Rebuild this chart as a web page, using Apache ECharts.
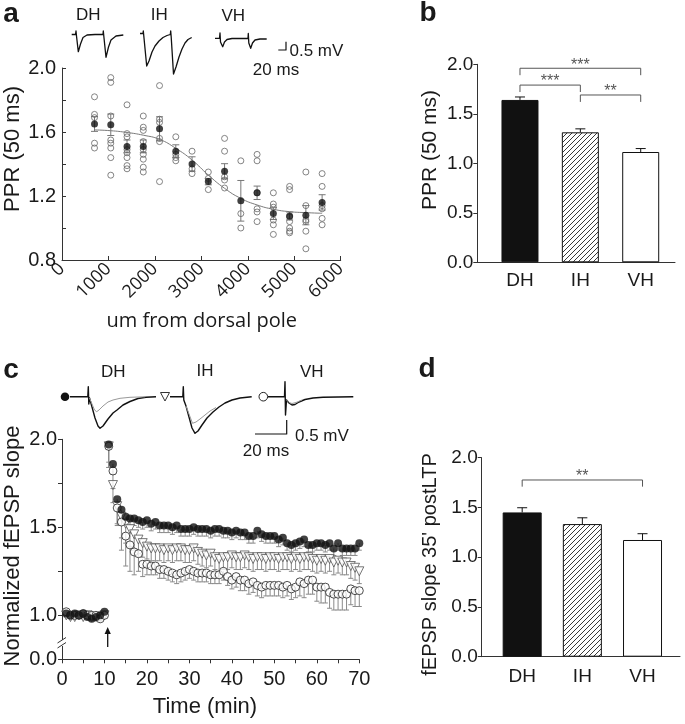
<!DOCTYPE html>
<html><head><meta charset="utf-8">
<script src="https://cdn.jsdelivr.net/npm/echarts@6/dist/echarts.min.js"></script>
<style>html,body{margin:0;padding:0;background:#fff}#chart{width:685px;height:724px}</style>
</head><body><div id="chart"></div>
<script>
// ---------- Panel a: PPR vs distance ----------
var aPos  = [700,1050,1400,1750,2100,2450,2800,3150,3500,3850,4200,4550,4900,5250,5600];
var aMean = [1.65,1.645,1.51,1.51,1.62,1.48,1.40,1.29,1.355,1.17,1.22,1.09,1.075,1.08,1.16];
var aSem  = [0.046,0.067,0.04,0.04,0.075,0.04,0.045,0.02,0.047,0.127,0.042,0.037,0.025,0.06,0.048];
var aIndiv = [
  [1.82,1.71,1.69,1.53,1.50],
  [1.94,1.91,1.70,1.55,1.53,1.50,1.44,1.33],
  [1.77,1.59,1.57,1.49,1.47,1.44,1.39,1.37],
  [1.70,1.63,1.61,1.54,1.49,1.46,1.43,1.38,1.35],
  [1.89,1.68,1.66,1.56,1.54,1.29],
  [1.57,1.46,1.44,1.42],
  [1.48,1.37,1.34],
  [1.35,1.31,1.24],
  [1.56,1.48,1.32,1.30,1.25],
  [1.42,1.09,1.00],
  [1.46,1.42,1.22,1.12,1.10,1.04],
  [1.22,1.15,1.13,1.05,1.02,0.96],
  [1.26,1.24,1.07,1.04,1.00,0.98,0.97],
  [1.35,1.14,1.05,1.04,0.98,0.87],
  [1.34,1.26,1.14,1.12,1.06,1.02]
];
var aFitX = [700,1050,1400,1750,2100,2450,2800,3150,3500,3850,4200,4550,4900,5250,5600];
var aFitY = [1.613,1.608,1.597,1.58,1.554,1.498,1.425,1.331,1.248,1.185,1.144,1.117,1.102,1.096,1.092];
var aYTicks = ['0.8','1.2','1.6','2.0'];

// ---------- Panel b ----------
var bCats = ['DH','IH','VH'];
var bMean = [1.64,1.313,1.114];
var bSem  = [0.03,0.035,0.035];
var bBrFrom = [0,0,1], bBrTo = [2,1,2], bBrY = [1.96,1.79,1.69], bBrLabel = ['***','***','**'];

// ---------- Panel c: LTP time course ----------
var cTime = [1,2,3,4,5,6,7,8,9,10,11,12,13,14,15,16,17,18,19,20,21,22,23,24,25,26,27,28,29,30,31,32,33,34,35,36,37,38,39,40,41,42,43,44,45,46,47,48,49,50,51,52,53,54,55,56,57,58,59,60,61,62,63,64,65,66,67,68,69,70];
var cDH = [1.01,1.00,1.01,1.00,1.01,0.99,0.98,0.99,1.00,1.02,
  1.97,1.86,1.66,1.60,1.56,1.55,1.55,1.54,1.53,1.54,
  1.52,1.53,1.51,1.51,1.51,1.50,1.51,1.49,1.49,1.49,
  1.50,1.49,1.49,1.49,1.48,1.49,1.49,1.48,1.48,1.47,
  1.48,1.47,1.47,1.45,1.45,1.48,1.46,1.45,1.45,1.45,
  1.43,1.44,1.41,1.40,1.41,1.42,1.43,1.40,1.40,1.41,
  1.41,1.40,1.41,1.38,1.41,1.38,1.38,1.38,1.38,1.41];
var cIH = [1.00,0.99,0.99,1.00,0.99,1.00,0.99,0.99,0.99,1.00,
  1.96,1.74,1.62,1.56,1.52,1.49,1.46,1.43,1.41,1.39,
  1.38,1.38,1.38,1.37,1.38,1.37,1.38,1.38,1.37,1.37,
  1.38,1.36,1.35,1.34,1.35,1.33,1.32,1.33,1.33,1.34,
  1.33,1.33,1.34,1.33,1.32,1.33,1.33,1.32,1.33,1.33,
  1.32,1.33,1.33,1.32,1.33,1.32,1.33,1.33,1.32,1.31,
  1.32,1.31,1.32,1.30,1.31,1.30,1.30,1.28,1.27,1.25];
var cVH = [1.02,1.00,1.00,1.00,1.01,1.00,1.00,1.00,0.98,1.00,
  1.96,1.82,1.61,1.53,1.45,1.40,1.36,1.35,1.29,1.29,
  1.28,1.28,1.26,1.26,1.25,1.24,1.23,1.24,1.25,1.26,
  1.25,1.24,1.24,1.24,1.23,1.23,1.23,1.25,1.22,1.20,
  1.22,1.20,1.20,1.18,1.19,1.17,1.16,1.17,1.17,1.17,
  1.17,1.16,1.17,1.15,1.16,1.19,1.18,1.20,1.20,1.16,
  1.16,1.16,1.13,1.12,1.12,1.12,1.12,1.15,1.14,1.14];
var cDHsem = [0.01,0.01,0.01,0.01,0.01,0.01,0.01,0.01,0.01,0.01,
  0.10,0.06,0.05,0.05,0.04,0.04,0.04,0.04,0.04,0.04,
  0.04,0.04,0.04,0.04,0.04,0.04,0.04,0.04,0.04,0.04,
  0.04,0.04,0.04,0.04,0.04,0.04,0.04,0.04,0.04,0.04,
  0.04,0.04,0.04,0.04,0.04,0.04,0.04,0.04,0.04,0.04,
  0.04,0.04,0.04,0.04,0.04,0.04,0.04,0.04,0.04,0.04,
  0.04,0.04,0.04,0.04,0.04,0.04,0.04,0.04,0.04,0.04];
var cIHsem = [0.01,0.01,0.01,0.01,0.01,0.01,0.01,0.01,0.01,0.01,
  0.12,0.10,0.10,0.12,0.11,0.10,0.09,0.08,0.08,0.07,
  0.07,0.07,0.07,0.07,0.07,0.07,0.07,0.07,0.07,0.07,
  0.07,0.07,0.07,0.07,0.07,0.07,0.07,0.07,0.07,0.07,
  0.07,0.07,0.07,0.07,0.07,0.07,0.07,0.07,0.07,0.07,
  0.07,0.07,0.07,0.07,0.07,0.07,0.07,0.07,0.07,0.07,
  0.07,0.07,0.07,0.07,0.07,0.07,0.07,0.07,0.07,0.07];
var cVHsem = [0.01,0.01,0.01,0.01,0.01,0.01,0.01,0.01,0.01,0.01,
  0.12,0.10,0.10,0.16,0.17,0.15,0.13,0.10,0.07,0.06,
  0.05,0.05,0.05,0.05,0.05,0.05,0.05,0.05,0.05,0.05,
  0.05,0.05,0.05,0.05,0.05,0.05,0.05,0.05,0.05,0.05,
  0.06,0.06,0.06,0.06,0.06,0.06,0.06,0.06,0.06,0.06,
  0.06,0.06,0.06,0.06,0.06,0.08,0.08,0.08,0.08,0.08,
  0.09,0.09,0.09,0.09,0.09,0.09,0.09,0.09,0.09,0.09];

// ---------- Panel d ----------
var dCats = ['DH','IH','VH'];
var dMean = [1.45,1.333,1.173];
var dSem  = [0.047,0.063,0.063];
var dBrFrom = [0], dBrTo = [2], dBrY = [1.776], dBrLabel = ['**'];

// ---------- helpers ----------
var FONT = '"Liberation Sans", Arial, sans-serif';
var AX = '#333';
function errItem(mode, cap, color) {
  return function (params, api) {
    var x = api.value(0), y = api.value(1), s = api.value(2);
    var top = api.coord([x, mode === 'down' ? y : y + s]);
    var bot = api.coord([x, mode === 'up' ? y : y - s]);
    var st = {stroke: color, lineWidth: 1};
    var ch = [{type:'line', shape:{x1:top[0],y1:top[1],x2:bot[0],y2:bot[1]}, style:st}];
    if (mode !== 'down') ch.push({type:'line', shape:{x1:top[0]-cap/2,y1:top[1],x2:top[0]+cap/2,y2:top[1]}, style:st});
    if (mode !== 'up') ch.push({type:'line', shape:{x1:bot[0]-cap/2,y1:bot[1],x2:bot[0]+cap/2,y2:bot[1]}, style:st});
    return {type:'group', children: ch};
  };
}
function bracketItem(labels, leg) {
  return function (params, api) {
    var y = api.value(2);
    var p1 = api.coord([api.value(0), y]), p2 = api.coord([api.value(1), y]);
    var l1 = api.coord([api.value(0), y - leg]), l2 = api.coord([api.value(1), y - leg]);
    var st = {stroke:'#555', lineWidth:1, fill:null};
    return {type:'group', children:[
      {type:'polyline', shape:{points:[[l1[0],l1[1]],[p1[0],p1[1]],[p2[0],p2[1]],[l2[0],l2[1]]]}, style:st},
      {type:'text', x:(p1[0]+p2[0])/2, y:p1[1]-3, style:{text:labels[params.dataIndex], fill:'#555', font:'16px '+FONT, align:'center', verticalAlign:'middle'}}
    ]};
  };
}
// hatch pattern for IH bars
var hatch = document.createElement('canvas'); hatch.width = 5; hatch.height = 5;
(function(){var g = hatch.getContext('2d'); g.fillStyle='#fff'; g.fillRect(0,0,5,5); g.strokeStyle='#222'; g.lineWidth=0.9;
 g.beginPath(); g.moveTo(0,5); g.lineTo(5,0); g.moveTo(-1,1); g.lineTo(1,-1); g.moveTo(4,6); g.lineTo(6,4); g.stroke();})();
var barStyles = [{color:'#111'}, {color:{image:hatch, repeat:'repeat'}}, {color:'#fff'}];

function txt(x, y, s, size, opt) {
  opt = opt || {};
  return {type:'text', x:x, y:y, rotation: opt.rot || 0, z: 10,
    style:{text:s, font:(opt.bold?'bold ':'') + size + 'px ' + (opt.family || FONT), fill: opt.color || '#1a1a1a',
      align: opt.align || 'center', verticalAlign: 'middle'}};
}
function pl(points, color, w) {
  return {type:'polyline', z:10, shape:{points:points}, style:{stroke:color, lineWidth:w, fill:null, lineJoin:'round'}};
}

var chart = echarts.init(document.getElementById('chart'), null, {renderer:'canvas'});

var aScatter = [];
aIndiv.forEach(function(col, i){ col.forEach(function(v){ aScatter.push([aPos[i], v]); }); });

function valAxisBase(extra) {
  var o = {type:'value', splitLine:{show:false},
    axisLine:{show:true, onZero:false, lineStyle:{color:AX, width:1}},
    axisTick:{show:true, length:4, lineStyle:{color:AX}},
    axisLabel:{color:'#1a1a1a', fontFamily:FONT, fontSize:20}};
  for (var k in extra) o[k] = extra[k];
  return o;
}

var option = {
  animation: false,
  backgroundColor: '#fff',
  grid: [
    {left:62, top:68, width:278.7, height:192},
    {left:489.8, top:64.3, width:181.1, height:198},
    {left:477.3, top:64.3, width:197.7, height:198},
    {left:62, top:439.3, width:297.3, height:220},
    {left:492.1, top:457.7, width:180.5, height:199},
    {left:481.7, top:457.7, width:198.3, height:199}
  ],
  xAxis: [
    valAxisBase({gridIndex:0, min:0, max:6000, interval:1000,
      axisTick:{inside:true, length:4, lineStyle:{color:AX}},
      axisLabel:{rotate:45, margin:6, color:'#1a1a1a', fontFamily:'"Open Sans", sans-serif', fontSize:18,
        formatter:function(v){return String(v);}}}),
    {gridIndex:1, type:'category', data:bCats, axisLine:{show:false}, axisTick:{show:false},
      axisLabel:{margin:9, color:'#1a1a1a', fontFamily:FONT, fontSize:19}},
    {gridIndex:2, type:'value', min:0, max:1, axisLine:{show:true, lineStyle:{color:AX}}, axisTick:{show:false}, axisLabel:{show:false}, splitLine:{show:false}},
    valAxisBase({gridIndex:3, min:0, max:70, interval:5,
      axisLabel:{margin:10, color:'#1a1a1a', fontFamily:FONT, fontSize:20, formatter:function(v){return v % 10 === 0 ? String(v) : '';}}}),
    {gridIndex:4, type:'category', data:dCats, axisLine:{show:false}, axisTick:{show:false},
      axisLabel:{margin:11, color:'#1a1a1a', fontFamily:FONT, fontSize:19}},
    {gridIndex:5, type:'value', min:0, max:1, axisLine:{show:true, lineStyle:{color:AX}}, axisTick:{show:false}, axisLabel:{show:false}, splitLine:{show:false}}
  ],
  yAxis: [
    valAxisBase({gridIndex:0, min:0.8, max:2.0, interval:0.2,
      axisTick:{inside:true, length:4, lineStyle:{color:AX}},
      axisLabel:{margin:6, color:'#1a1a1a', fontFamily:FONT, fontSize:20,
        formatter:function(v){ var s = v.toFixed(1); return aYTicks.indexOf(s) >= 0 ? s : ''; }}}),
    valAxisBase({gridIndex:1, min:0, max:2, interval:0.5, offset:12.5,
      axisLabel:{margin:4, color:'#1a1a1a', fontFamily:FONT, fontSize:19, formatter:function(v){return v.toFixed(1);}}}),
    {gridIndex:2, type:'value', show:false, min:0, max:2},
    valAxisBase({gridIndex:3, min:0.75, max:2.0, interval:0.25,
      axisLabel:{margin:5, color:'#1a1a1a', fontFamily:FONT, fontSize:20,
        formatter:function(v){ if (Math.abs(v-0.75) < 1e-6) return '0.0'; return Math.abs(v*2-Math.round(v*2)) < 1e-6 ? v.toFixed(1) : ''; }}}),
    valAxisBase({gridIndex:4, min:0, max:2, interval:0.5, offset:10.4,
      axisLabel:{margin:4, color:'#1a1a1a', fontFamily:FONT, fontSize:19, formatter:function(v){return v.toFixed(1);}}}),
    {gridIndex:5, type:'value', show:false, min:0, max:2}
  ],
  series: [
    // a
    {type:'custom', xAxisIndex:0, yAxisIndex:0, renderItem: errItem('both', 7, '#777'), encode:{x:0, y:1}, z:2,
      data: aPos.map(function(x,i){return [x, aMean[i], aSem[i]];})},
    {type:'scatter', xAxisIndex:0, yAxisIndex:0, symbol:'circle', symbolSize:6, z:3,
      itemStyle:{color:'rgba(255,255,255,0)', borderColor:'#666', borderWidth:1}, data:aScatter},
    {type:'line', xAxisIndex:0, yAxisIndex:0, smooth:true, showSymbol:false, z:4,
      lineStyle:{color:'#7a7a7a', width:1}, data: aFitX.map(function(x,i){return [x, aFitY[i]];})},
    {type:'scatter', xAxisIndex:0, yAxisIndex:0, symbol:'circle', symbolSize:7, z:5,
      itemStyle:{color:'#111'}, data: aPos.map(function(x,i){return [x, aMean[i]];})},
    // b
    {type:'bar', xAxisIndex:1, yAxisIndex:1, barWidth:37, z:2,
      data: bMean.map(function(v,i){return {value:v, itemStyle:{color:barStyles[i].color, borderColor:'#111', borderWidth:1}};})},
    {type:'custom', xAxisIndex:1, yAxisIndex:1, renderItem: errItem('up', 10, '#111'), encode:{x:0, y:1}, z:3,
      data: bMean.map(function(v,i){return [i, v, bSem[i]];})},
    {type:'custom', xAxisIndex:1, yAxisIndex:1, renderItem: bracketItem(bBrLabel, 0.07), encode:{x:[0,1], y:2}, z:3,
      data: bBrFrom.map(function(f,i){return [f, bBrTo[i], bBrY[i]];})},
    // c
    {type:'custom', xAxisIndex:3, yAxisIndex:3, renderItem: errItem('down', 5, '#8a8a8a'), encode:{x:0, y:1}, z:2,
      data: cTime.map(function(t,i){return [t, cVH[i], cVHsem[i]];})},
    {type:'custom', xAxisIndex:3, yAxisIndex:3, renderItem: errItem('down', 5, '#8a8a8a'), encode:{x:0, y:1}, z:2,
      data: cTime.map(function(t,i){return [t, cIH[i], cIHsem[i]];})},
    {type:'custom', xAxisIndex:3, yAxisIndex:3, renderItem: errItem('down', 5, '#8a8a8a'), encode:{x:0, y:1}, z:2,
      data: cTime.map(function(t,i){return [t, cDH[i], cDHsem[i]];})},
    {type:'scatter', xAxisIndex:3, yAxisIndex:3, symbol:'triangle', symbolRotate:180, symbolSize:9, z:3,
      itemStyle:{color:'#fff', borderColor:'#555', borderWidth:1}, data: cTime.map(function(t,i){return [t, cIH[i]];})},
    {type:'scatter', xAxisIndex:3, yAxisIndex:3, symbol:'circle', symbolSize:8, z:4,
      itemStyle:{color:'#fff', borderColor:'#222', borderWidth:1}, data: cTime.map(function(t,i){return [t, cVH[i]];})},
    {type:'scatter', xAxisIndex:3, yAxisIndex:3, symbol:'circle', symbolSize:8, z:5,
      itemStyle:{color:'#111'}, data: cTime.map(function(t,i){return [t, cDH[i]];})},
    // d
    {type:'bar', xAxisIndex:4, yAxisIndex:4, barWidth:39, z:2,
      data: dMean.map(function(v,i){return {value:v, itemStyle:{color:barStyles[i].color, borderColor:'#111', borderWidth:1}};})},
    {type:'custom', xAxisIndex:4, yAxisIndex:4, renderItem: errItem('up', 10, '#111'), encode:{x:0, y:1}, z:3,
      data: dMean.map(function(v,i){return [i, v, dSem[i]];})},
    {type:'custom', xAxisIndex:4, yAxisIndex:4, renderItem: bracketItem(dBrLabel, 0.067), encode:{x:[0,1], y:2}, z:3,
      data: dBrFrom.map(function(f,i){return [f, dBrTo[i], dBrY[i]];})}
  ],
  graphic: [
    // panel letters
    txt(11, 14, 'a', 28, {bold:true}),
    txt(428, 13, 'b', 28, {bold:true}),
    txt(11, 370, 'c', 28, {bold:true}),
    txt(427, 369, 'd', 28, {bold:true}),
    // axis titles
    txt(12.5, 149, 'PPR (50 ms)', 22, {rot:Math.PI/2}),
    txt(201.7, 321, 'um from dorsal pole', 20, {family:'"Open Sans", sans-serif'}),
    txt(430, 150, 'PPR (50 ms)', 21, {rot:Math.PI/2}),
    txt(12.5, 546, 'Normalized fEPSP slope', 22, {rot:Math.PI/2}),
    txt(205, 707, 'Time (min)', 22),
    txt(430, 564.5, "fEPSP slope 35' postLTP", 20, {rot:Math.PI/2}),
    // panel a traces
    txt(88.3, 15, 'DH', 17), txt(159.3, 15, 'IH', 17), txt(233.3, 16, 'VH', 17),
    pl([[71.7,34.5],[75.5,34.5],[76,31],[76.5,36],[78.3,51.7],[80.5,44],[83,37.5],[87,35],[95,34.5],[103,34.5],[103.3,31],[103.8,36],[106,57.3],[108.5,47],[111,40],[116,36],[123.3,35]], '#111', 1.3),
    pl([[140,33.5],[143,33.5],[143.3,31],[143.8,36],[146.7,66],[149,61],[152,52],[155,46],[159,41],[163,37.5],[167,35.5],[170.3,34.5],[170.7,31],[171.2,37],[173.5,74],[176,67],[179,57],[182,49],[185,43],[188,39.5],[191.7,37.5]], '#111', 1.3),
    pl([[215,38.3],[219.5,38.3],[220,33],[220.5,42],[222.7,46.7],[224.5,42],[227,39.5],[232,38.5],[248,38.3],[248.3,33.5],[248.8,43],[250.7,48.3],[252.5,43],[255,40],[260,39],[266.7,39]], '#111', 1.3),
    pl([[278.3,50],[286,50],[286,41.7]], '#111', 1.2),
    txt(289.5, 51.7, '0.5 mV', 17, {align:'left'}),
    txt(276, 70, '20 ms', 17),
    // panel c traces
    txt(113.3, 372, 'DH', 17), txt(205, 371, 'IH', 17), txt(311.7, 372, 'VH', 17),
    {type:'circle', z:10, shape:{cx:65, cy:396.7, r:4.3}, style:{fill:'#111'}},
    pl([[70,396.7],[87.8,396.7],[88.3,386.7],[88.8,404],[89.5,398],[92,407],[95,418],[98,426],[100,428.3],[103,426],[108,419],[113,413],[117,410],[123,405],[130,401.5],[138,398.5],[146,397.3],[156,396.7]], '#111', 1.4),
    pl([[89.5,398],[92,404],[94.5,410],[96.7,411.7],[99,410],[103,406],[108,402],[113,400],[120,398.3],[130,397.3],[145,396.8]], '#999', 1),
    {type:'polygon', z:10, shape:{points:[[160.5,392.5],[169.5,392.5],[165,401]]}, style:{fill:'#fff', stroke:'#333', lineWidth:1}},
    pl([[170,396.7],[182.8,396.7],[183.3,386.7],[183.8,400],[186,406],[189,417],[192,428],[195,433.3],[198,431],[202,425],[207,418],[213,412],[219,407],[225,403],[232,400],[240,398],[251.7,396.7]], '#111', 1.4),
    pl([[186,406],[189,414],[192.5,423.3],[196,422],[200,419],[205,415],[210,411],[216,407.5]], '#999', 1),
    {type:'circle', z:10, shape:{cx:263.3, cy:396.7, r:4.3}, style:{fill:'#fff', stroke:'#222', lineWidth:1}},
    pl([[268,396.7],[284.5,396.7],[285,381.7],[285.5,415],[286.5,400],[289,403],[292,405],[295,404.5],[299,402],[305,399.5],[313,398],[323,397.3],[353.3,396.7]], '#111', 1.4),
    pl([[286.5,400],[289,402.5],[292,403.5],[296,402.5],[302,400]], '#999', 1),
    pl([[255,434],[286.7,434],[286.7,420]], '#111', 1.2),
    txt(295, 436, '0.5 mV', 17, {align:'left'}),
    txt(266, 451.5, '20 ms', 17),
    // arrow (tetanus)
    pl([[107.7,647],[107.7,632]], '#111', 1.3),
    {type:'polygon', z:10, shape:{points:[[104.6,634],[107.7,627],[110.8,634]]}, style:{fill:'#111'}},
    // axis break mark
    {type:'rect', z:10, shape:{x:58, y:640, width:8, height:6}, style:{fill:'#fff'}},
    pl([[57.5,643],[66,637.5]], '#333', 1),
    pl([[57.5,648],[66,642.5]], '#333', 1)
  ]
};
chart.setOption(option);
</script></body></html>
